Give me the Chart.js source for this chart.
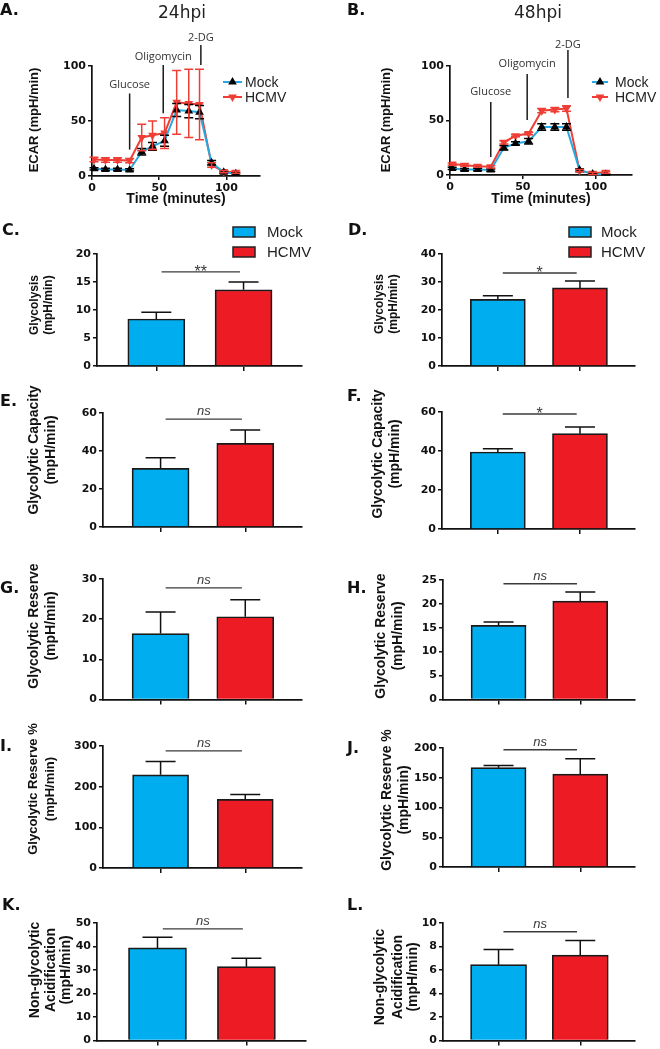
<!DOCTYPE html>
<html>
<head>
<meta charset="utf-8">
<script src="https://cdn.jsdelivr.net/npm/chart.js@4.4.1/dist/chart.umd.min.js"></script>
<style>
body { margin: 0; background: #fff; }
#fig { position: relative; width: 660px; height: 1049px; overflow: hidden; }
#fig canvas { position: absolute; }
.lbl { position: absolute; font: bold 16px "DejaVu Sans"; color: #111; line-height: 16px; }
.ttl { position: absolute; font: 17px "DejaVu Sans"; color: #222; line-height: 17px; transform: translateX(-50%); }
</style>
</head>
<body>
<div id="fig"></div>
<script>
// ECAR time course (panels A, B)
const times = [1.5, 10, 19, 28, 37, 45, 54, 63, 72, 80, 89, 98, 107];
const mock24 = [6.5, 6, 6, 5.5, 22, 27, 32, 60, 59, 58, 12, 3.5, 2];
const mock24Err = [1, 1, 1, 1, 3, 3.5, 5, 6, 6, 6, 2, 1, 1];
const hcmv24 = [15, 14.5, 14.5, 14, 35, 37, 39, 67, 66, 65, 10, 4, 3.5];
const hcmv24Err = [2, 2, 2, 2, 12, 13, 14, 29, 31, 32, 2, 1, 1];
const mock48 = [6, 5, 5, 4.5, 25, 29, 31, 44, 44, 44, 4.5, 1, 0.5];
const mock48Err = [1, 1, 1, 1, 2, 1.5, 2.5, 3, 3, 3, 1, 0.5, 0.5];
const hcmv48 = [10, 9, 8, 7.5, 30, 36, 38, 59, 60, 61, 4, 1.5, 2.5];
const hcmv48Err = [1, 1, 1, 1, 1.5, 1, 1, 2, 2, 2.5, 1, 1, 1];
const injections = ['Glucose', 'Oligomycin', '2-DG'];
const injectTimes = [28, 53, 81];
const timeTicks = [0, 50, 100];
const ecarTicks = [0, 50, 100];

// bar panels (C-L): [Mock, HCMV]
const categories = ['Mock', 'HCMV'];
const glycolysis24 = [8.4, 13.6], glycolysis24Err = [1.2, 1.4];
const glycolysis48 = [23.8, 27.9], glycolysis48Err = [1.3, 2.5];
const capacity24 = [30.9, 44.0], capacity24Err = [5.6, 7.0];
const capacity48 = [39.5, 48.9], capacity48Err = [1.7, 3.4];
const reserve24 = [16.4, 20.6], reserve24Err = [5.4, 4.2];
const reserve48 = [15.5, 20.6], reserve48Err = [0.7, 1.9];
const reservePct24 = [229, 169], reservePct24Err = [33, 12];
const reservePct48 = [167, 156], reservePct48Err = [3.5, 26];
const nonGly24 = [39.4, 31.4], nonGly24Err = [4.5, 3.6];
const nonGly48 = [6.45, 7.26], nonGly48Err = [1.3, 1.26];

const ticksC = [0, 5, 10, 15, 20];
const ticksD = [0, 10, 20, 30, 40];
const ticksEF = [0, 20, 40, 60];
const ticksG = [0, 10, 20, 30];
const ticksH = [0, 5, 10, 15, 20, 25];
const ticksI = [0, 100, 200, 300];
const ticksJ = [0, 50, 100, 150, 200];
const ticksK = [0, 10, 20, 30, 40, 50];
const ticksL = [0, 2, 4, 6, 8, 10];

const sigLabels = ['**', '*', 'ns', '*', 'ns', 'ns', 'ns', 'ns', 'ns', 'ns'];
const bracketLevels = [16.8, 33.2, 56.8, 59, 27.8, 24.2, 288, 197, 47.5, 9.25];

const BLUE = '#00aeef', RED = '#ed1c24';
const LINE_BLUE = '#27aae1', LINE_RED = '#ef3e36';
const TICK_FONT = { family: 'DejaVu Sans', weight: 'bold', size: 11 };

const fig = document.getElementById('fig');

function seg(ctx, x1, y1, x2, y2) {
    ctx.beginPath(); ctx.moveTo(x1, y1); ctx.lineTo(x2, y2); ctx.stroke();
}

// error bars, injection marks, significance bracket, legend, side title
const decor = {
    id: 'decor',
    afterDatasetsDraw(chart, args, o) {
        const { ctx, scales: { y } } = chart;
        ctx.save();
        chart.data.datasets.forEach((ds, di) => {
            if (!ds.errs) return;
            ctx.strokeStyle = ds.errColor || '#111';
            ctx.lineWidth = 1.5;
            chart.getDatasetMeta(di).data.forEach((p, i) => {
                const v = ds.data[i].y, e = ds.errs[i];
                const top = y.getPixelForValue(v + e);
                const bot = y.getPixelForValue(o.twoSided ? v - e : v);
                ctx.beginPath();
                ctx.moveTo(p.x, bot); ctx.lineTo(p.x, top);
                ctx.moveTo(p.x - o.cap, top); ctx.lineTo(p.x + o.cap, top);
                if (o.twoSided) { ctx.moveTo(p.x - o.cap, bot); ctx.lineTo(p.x + o.cap, bot); }
                ctx.stroke();
            });
        });
        ctx.restore();
    },
    afterDraw(chart, args, o) {
        const { ctx, scales: { x, y } } = chart;
        ctx.save();
        ctx.textAlign = 'center';
        ctx.textBaseline = 'middle';
        (o.inject || []).forEach(m => {
            const px = x.getPixelForValue(m.t);
            ctx.strokeStyle = '#1a1a1a'; ctx.lineWidth = 1.5;
            seg(ctx, px, y.getPixelForValue(m.from), px, y.getPixelForValue(m.to));
            ctx.font = '11px "Open Sans"'; ctx.fillStyle = '#333';
            ctx.fillText(m.label, px, y.getPixelForValue(m.text));
        });
        if (o.bracket) {
            const b = o.bracket;
            const yy = y.getPixelForValue(b.level);
            const x1 = x.getPixelForValue(b.from), x2 = x.getPixelForValue(b.to);
            ctx.strokeStyle = '#3a3a3a'; ctx.lineWidth = 1.4;
            seg(ctx, x1, yy, x2, yy);
            const ns = b.text === 'ns';
            ctx.font = ns ? 'italic 13px "Liberation Sans"' : '16px "Liberation Sans"';
            ctx.fillStyle = '#3a3a3a';
            ctx.textBaseline = 'alphabetic';
            ctx.fillText(b.text, (x1 + x2) / 2, ns ? yy - 4 : yy + 5);
            ctx.textBaseline = 'middle';
        }
        if (o.legend) {
            const L = o.legend;
            L.items.forEach((it, i) => {
                const yy = L.y + i * L.gap;
                if (L.kind === 'line') {
                    ctx.strokeStyle = it.line; ctx.lineWidth = 2;
                    seg(ctx, L.x, yy, L.x + L.w, yy);
                    ctx.fillStyle = it.marker; ctx.strokeStyle = it.marker;
                    Chart.helpers.drawPoint(ctx, { pointStyle: 'triangle', radius: 3, rotation: it.rot, borderWidth: 1 }, L.x + L.w / 2, yy);
                } else {
                    ctx.fillStyle = it.fill;
                    ctx.fillRect(L.x, yy - 5, L.w, 10);
                    ctx.strokeStyle = '#222'; ctx.lineWidth = 1.5;
                    ctx.strokeRect(L.x, yy - 5, L.w, 10);
                }
                ctx.font = L.font; ctx.fillStyle = '#222'; ctx.textAlign = 'left';
                ctx.fillText(it.label, L.tx, yy + 1);
                ctx.textAlign = 'center';
            });
        }
        if (o.sideTitle) {
            const t = o.sideTitle;
            ctx.font = 'bold ' + t.size + 'px "Liberation Sans"';
            ctx.fillStyle = '#111';
            t.lines.forEach((s, i) => {
                ctx.save();
                ctx.translate(t.xs[i], t.yc);
                ctx.rotate(-Math.PI / 2);
                ctx.fillText(s, 0, 0);
                ctx.restore();
            });
        }
        ctx.restore();
    }
};

function addCanvas(box) {
    const c = document.createElement('canvas');
    c.width = box[2]; c.height = box[3];
    c.style.left = box[0] + 'px'; c.style.top = box[1] + 'px';
    c.style.width = box[2] + 'px'; c.style.height = box[3] + 'px';
    fig.appendChild(c);
    return c;
}

// box = canvas [left, top, w, h], area = plot [left, top, right, bottom], page coords
function frame(box, area) {
    return {
        padding: { left: 0, top: area[1] - box[1], right: box[0] + box[2] - area[2], bottom: 0 },
        yWidth: area[0] - box[0],
        xHeight: box[1] + box[3] - area[3]
    };
}

function axisBase(tickVals, fit) {
    return {
        offset: false,
        afterBuildTicks: s => { s.ticks = tickVals.map(v => ({ value: v })); },
        afterFit: fit,
        grid: { offset: false, drawOnChartArea: false, drawTicks: true, tickLength: 4, color: '#111', lineWidth: 1.5 },
        border: { display: true, color: '#111', width: 1.7 },
        ticks: { color: '#111', font: TICK_FONT, padding: 2, autoSkip: false, maxRotation: 0 }
    };
}

function linePanel(p) {
    const f = frame(p.box, p.area);
    const x = axisBase(timeTicks, s => { s.height = f.xHeight; });
    Object.assign(x, { type: 'linear', min: 0, max: 125,
        title: { display: true, text: 'Time (minutes)', color: '#111', padding: { top: 0, bottom: 4.6 },
                 font: { family: 'Liberation Sans', weight: 'bold', size: 14 } } });
    const y = axisBase(ecarTicks, s => { s.width = f.yWidth; });
    Object.assign(y, { min: 0, max: 100 });
    new Chart(addCanvas(p.box), {
        type: 'line',
        data: {
            datasets: [
                { label: 'Mock', data: times.map((t, i) => ({ x: t, y: p.mock[i] })),
                  borderColor: LINE_BLUE, borderWidth: 2, pointStyle: 'triangle', pointRadius: 3,
                  pointBackgroundColor: '#000', pointBorderColor: '#000', errs: p.mockErr, errColor: '#000' },
                { label: 'HCMV', data: times.map((t, i) => ({ x: t, y: p.hcmv[i] })),
                  borderColor: LINE_RED, borderWidth: 2, pointStyle: 'triangle', pointRotation: 180, pointRadius: 3,
                  pointBackgroundColor: LINE_RED, pointBorderColor: LINE_RED, errs: p.hcmvErr, errColor: LINE_RED }
            ]
        },
        options: {
            responsive: false, animation: false, devicePixelRatio: 1,
            layout: { padding: f.padding },
            plugins: {
                legend: { display: false }, tooltip: { enabled: false },
                decor: {
                    twoSided: true, cap: 4.5,
                    inject: injections.map((label, i) => ({ label, t: injectTimes[i], from: p.marks[i][0], to: p.marks[i][1], text: p.marks[i][2] })),
                    legend: { kind: 'line', x: p.leg[0] - p.box[0], w: p.leg[1], tx: p.leg[2] - p.box[0], y: 82 - p.box[1], gap: 15,
                              font: '14px "Liberation Sans"',
                              items: [{ label: categories[0], line: LINE_BLUE, marker: '#000', rot: 0 },
                                      { label: categories[1], line: LINE_RED, marker: LINE_RED, rot: 180 }] },
                    sideTitle: { lines: ['ECAR (mpH/min)'], size: 13, xs: [p.tx - p.box[0]], yc: 120 - p.box[1] }
                }
            },
            scales: { x, y }
        },
        plugins: [decor]
    });
}

function barPanel(p, k) {
    const f = frame(p.box, p.area);
    const x = axisBase([0, 1], s => { s.height = f.xHeight; });
    Object.assign(x, { type: 'linear', min: -0.68, max: 1.67 });
    x.afterBuildTicks = s => { s.ticks = categories.map((c, i) => ({ value: i })); };
    x.ticks = { display: false };
    x.grid = Object.assign({}, x.grid, { tickLength: 5 });
    const y = axisBase(p.ticks, s => { s.width = f.yWidth; });
    Object.assign(y, { min: 0, max: p.ticks[p.ticks.length - 1] });
    const dec = {
        twoSided: false, cap: 15,
        bracket: { level: bracketLevels[k], from: 0.06, to: 0.96, text: sigLabels[k] },
        sideTitle: { lines: p.title, size: p.tsize, xs: p.tx.map(v => v - p.box[0]), yc: p.ty - p.box[1] }
    };
    if (p.leg) {
        dec.legend = { kind: 'box', x: p.leg[0] - p.box[0], w: 22, tx: p.leg[1] - p.box[0], y: 232 - p.box[1], gap: 20,
                       font: '15px "Liberation Sans"',
                       items: [{ label: categories[0], fill: BLUE }, { label: categories[1], fill: RED }] };
    }
    new Chart(addCanvas(p.box), {
        type: 'bar',
        data: {
            datasets: [{
                data: categories.map((c, i) => ({ x: i, y: p.vals[i] })),
                backgroundColor: [BLUE, RED], borderColor: '#1a1a1a', borderWidth: 1.7,
                barThickness: p.bw, errs: p.errs, errColor: '#111'
            }]
        },
        options: {
            responsive: false, animation: false, devicePixelRatio: 1,
            layout: { padding: f.padding },
            plugins: { legend: { display: false }, tooltip: { enabled: false }, decor: dec },
            scales: { x, y }
        },
        plugins: [decor]
    });
}

linePanel({ box: [0, 0, 330, 212], area: [92, 66, 260, 176], mock: mock24, mockErr: mock24Err, hcmv: hcmv24, hcmvErr: hcmv24Err,
            marks: [[24, 75, 83], [57, 101, 108], [101, 119, 125.5]], leg: [223, 19, 245], tx: 34 });
linePanel({ box: [330, 0, 330, 212], area: [450, 66, 632, 175], mock: mock48, mockErr: mock48Err, hcmv: hcmv48, hcmvErr: hcmv48Err,
            marks: [[16.5, 67, 76], [50.5, 92.7, 102], [70.6, 114.7, 119]], leg: [592, 16, 615], tx: 386 });

const mmin = '(mpH/min)';
const bars = [
    { box: [0, 212, 330, 163], area: [97, 254, 302, 366], vals: glycolysis24, errs: glycolysis24Err, ticks: ticksC, bw: 57,
      title: ['Glycolysis', mmin], tsize: 12, tx: [35, 49], ty: 305, leg: [233, 267] },
    { box: [330, 212, 330, 163], area: [442, 254, 635, 366], vals: glycolysis48, errs: glycolysis48Err, ticks: ticksD, bw: 55,
      title: ['Glycolysis', mmin], tsize: 12, tx: [380, 394], ty: 304, leg: [569, 601] },
    { box: [0, 375, 330, 165], area: [103, 413, 302, 527], vals: capacity24, errs: capacity24Err, ticks: ticksEF, bw: 57,
      title: ['Glycolytic Capacity', mmin], tsize: 14, tx: [34, 51], ty: 450 },
    { box: [330, 375, 330, 165], area: [442, 412, 635, 529], vals: capacity48, errs: capacity48Err, ticks: ticksEF, bw: 55,
      title: ['Glycolytic Capacity', mmin], tsize: 14, tx: [378, 395], ty: 454 },
    { box: [0, 540, 330, 168], area: [103, 579, 302, 701], vals: reserve24, errs: reserve24Err, ticks: ticksG, bw: 57,
      title: ['Glycolytic Reserve', mmin], tsize: 14, tx: [34, 51], ty: 626 },
    { box: [330, 540, 330, 168], area: [443, 580, 635, 701], vals: reserve48, errs: reserve48Err, ticks: ticksH, bw: 55,
      title: ['Glycolytic Reserve', mmin], tsize: 14, tx: [381, 398], ty: 636 },
    { box: [0, 708, 330, 170], area: [103, 746, 302, 868], vals: reservePct24, errs: reservePct24Err, ticks: ticksI, bw: 56,
      title: ['Glycolytic Reserve %', mmin], tsize: 13, tx: [33, 50], ty: 789 },
    { box: [330, 708, 330, 170], area: [443, 748, 635, 867], vals: reservePct48, errs: reservePct48Err, ticks: ticksJ, bw: 55,
      title: ['Glycolytic Reserve %', mmin], tsize: 14, tx: [387, 404], ty: 800 },
    { box: [0, 878, 330, 171], area: [97, 923, 306, 1041], vals: nonGly24, errs: nonGly24Err, ticks: ticksK, bw: 58,
      title: ['Non-glycolytic', 'Acidification', mmin], tsize: 14, tx: [35, 51, 66], ty: 970 },
    { box: [330, 878, 330, 171], area: [443, 923, 635, 1043], vals: nonGly48, errs: nonGly48Err, ticks: ticksL, bw: 56,
      title: ['Non-glycolytic', 'Acidification', mmin], tsize: 14, tx: [380, 398, 413], ty: 977 }
];
bars.forEach(barPanel);

// panel letters and column headings
const letters = [['A.', 0, 10], ['B.', 347, 10], ['C.', 2, 230], ['D.', 348, 230], ['E.', 0, 401], ['F.', 347, 396],
                 ['G.', 0, 588], ['H.', 347, 588], ['I.', 0, 746], ['J.', 347, 748], ['K.', 2, 905], ['L.', 347, 905]];
letters.forEach(([t, x, cy]) => {
    const d = document.createElement('div');
    d.className = 'lbl'; d.textContent = t;
    d.style.left = x + 'px'; d.style.top = (cy - 8) + 'px';
    fig.appendChild(d);
});
[['24hpi', 182], ['48hpi', 538]].forEach(([t, cx]) => {
    const d = document.createElement('div');
    d.className = 'ttl'; d.textContent = t;
    d.style.left = cx + 'px'; d.style.top = '4px';
    fig.appendChild(d);
});
</script>
</body>
</html>
